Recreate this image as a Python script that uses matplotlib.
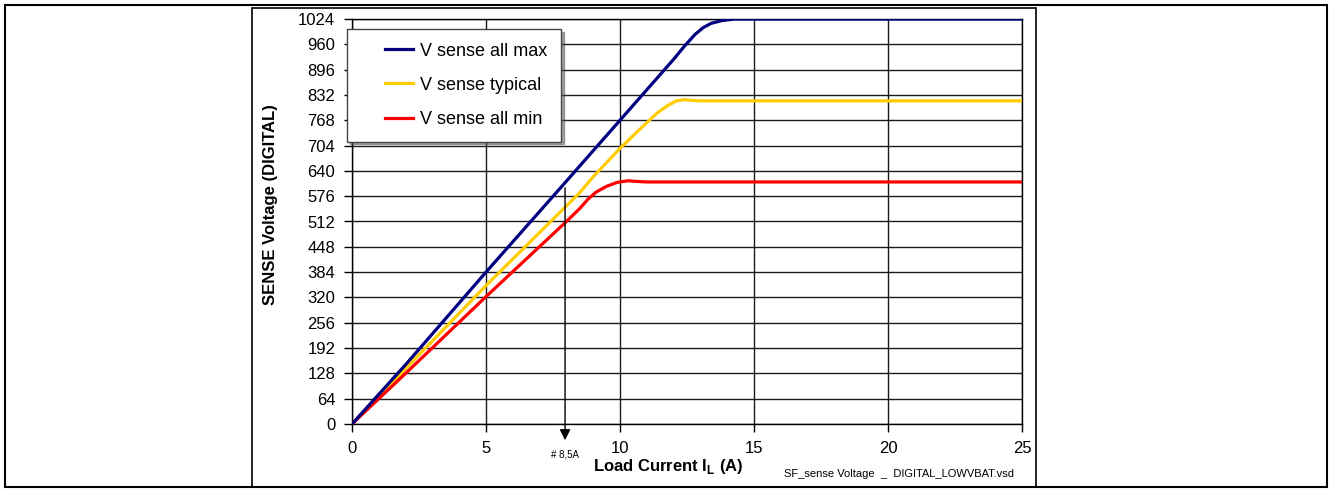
import matplotlib.pyplot as plt
import numpy as np
from matplotlib.patches import Rectangle
from matplotlib.legend_handler import HandlerLine2D

# load current (A) and sense values (digital)
i_max = [0, 2, 5, 8, 10, 11, 12, 12.4, 12.8, 13.1, 13.4, 13.8, 14.3, 25]
v_max = [0, 150, 384, 614, 768, 845, 922, 955, 985, 1002, 1013, 1020, 1024, 1024]

i_typ = [0, 2, 5, 8.5, 9, 10, 11, 11.4, 11.8, 12.1, 12.4, 12.7, 13, 25]
v_typ = [0, 140, 350, 585, 625, 697, 762, 787, 806, 817, 820, 818, 817, 817]

i_min = [0, 2, 5, 8, 8.5, 8.8, 9.1, 9.5, 9.9, 10.3, 10.7, 11, 25]
v_min = [0, 128, 322, 512, 545, 568, 586, 601, 611, 615, 613, 612, 612]

x_ticks = [0, 5, 10, 15, 20, 25]
y_ticks = list(range(0, 1025, 64))
marker_x = 7.95   # where the "# 8,5A" arrow sits in the picture

W, H = 1330, 490
plt.rcParams['font.family'] = ['Liberation Sans', 'DejaVu Sans']
fig = plt.figure(figsize=(W / 100, H / 100), dpi=100)


def frame(x0, y0, x1, y1, lw):
    fig.patches.append(Rectangle((x0 / W, 1 - y1 / H), (x1 - x0) / W, (y1 - y0) / H,
                                 transform=fig.transFigure, fill=False,
                                 edgecolor='black', linewidth=lw))


# page frames
frame(5, 5, 1327, 487, 1.5)
frame(252, 8, 1036, 487, 1.2)

ax = fig.add_axes([352 / W, 1 - 424 / H, (1022 - 352) / W, (424 - 19) / H])

ax.plot(i_max, v_max, color='#000080', lw=2.3, label='V sense all max', zorder=4)
ax.plot(i_typ, v_typ, color='#FFCC00', lw=2.3, label='V sense typical', zorder=3)
ax.plot(i_min, v_min, color='#FF0000', lw=2.3, label='V sense all min', zorder=3)

ax.set_xlim(0, 25)
ax.set_ylim(0, 1024)
ax.set_xticks(x_ticks)
ax.set_yticks(y_ticks)
ax.tick_params(direction='out', length=6, width=1, labelsize=12)
ax.tick_params(axis='x', pad=6)
ax.tick_params(axis='y', pad=6)
ax.grid(True, color='#1a1a1a', linewidth=1)
ax.set_axisbelow(True)
for s in ax.spines.values():
    s.set_linewidth(1)

fig.text(270 / W, 1 - 205 / H, 'SENSE Voltage (DIGITAL)', rotation=90,
         fontsize=12, fontweight='bold', ha='center', va='center')
fig.text(668 / W, 1 - 466 / H, 'Load Current I$_\\mathregular{L}$ (A)',
         fontsize=12, fontweight='bold', ha='center', va='center')

# marker arrow
ax.annotate('', xy=(marker_x, -48), xytext=(marker_x, 604), annotation_clip=False,
            arrowprops=dict(arrowstyle='-|>', color='black', lw=1, mutation_scale=16))
ax.text(marker_x, -78, '# 8,5A', fontsize=7, ha='center', va='center', clip_on=False)

fig.text(899 / W, 1 - 474 / H, 'SF_sense Voltage  _  DIGITAL_LOWVBAT.vsd',
         fontsize=8, ha='center', va='center')


class RightLine(HandlerLine2D):
    # draw only the right part of the handle so it sits indented like the original
    def create_artists(self, legend, orig_handle, xdescent, ydescent, width,
                       height, fontsize, trans):
        arts = super().create_artists(legend, orig_handle, xdescent, ydescent,
                                      width, height, fontsize, trans)
        for a in arts:
            x = np.asarray(a.get_xdata(), dtype=float)
            if len(x) > 1:
                a.set_xdata(np.linspace(x[0] + (x[-1] - x[0]) * 0.47, x[-1], len(x)))
        return arts


leg = ax.legend(loc='upper left', bbox_to_anchor=(-0.0075, 0.975), fontsize=13,
                frameon=True, fancybox=False, shadow=True, edgecolor='#444444',
                labelspacing=0.95, handlelength=2.9, handletextpad=0.4,
                borderpad=0.75, borderaxespad=0,
                handler_map={plt.Line2D: RightLine()})
leg.get_frame().set_linewidth(1)

fig.savefig('out.png', dpi=100)
